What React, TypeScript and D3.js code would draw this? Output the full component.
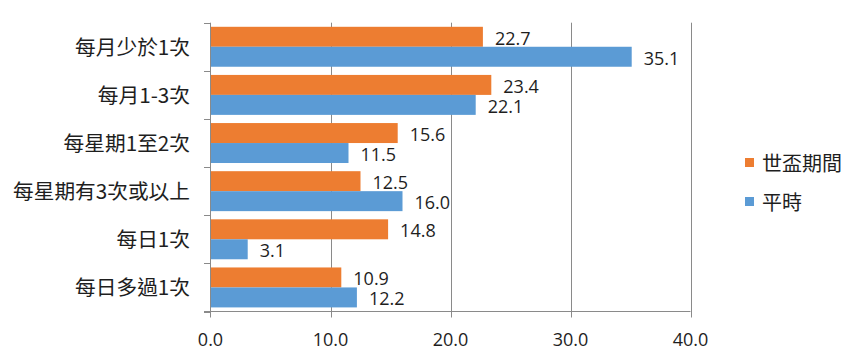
import React from 'react';
import * as d3 from 'd3';

const categories = ['每月少於1次', '每月1-3次', '每星期1至2次', '每星期有3次或以上', '每日1次', '每日多過1次'];
const worldCup = [22.7, 23.4, 15.6, 12.5, 14.8, 10.9];
const normal = [35.1, 22.1, 11.5, 16.0, 3.1, 12.2];
const seriesNames = ['世盃期間', '平時'];
const seriesColors = ['#ED7D31', '#5B9BD5'];
const xTicks = [0, 10, 20, 30, 40];

const W = 866;
const H = 363;
const left = 210.5;
const right = 690.5;
const top = 22.7;
const bottom = 311.5;
const gridColor = '#8a8a8a';
const textColor = '#1e1e1e';
const numFont = '"Open Sans", "Liberation Sans", sans-serif';
const cjkFont = '"Noto Sans CJK TC", "Noto Sans CJK SC", sans-serif';

export default function App() {
  const x = d3.scaleLinear().domain([0, 40]).range([left, right]);
  const y = d3.scaleBand<string>().domain(categories).range([top, bottom]).paddingInner(0.17).paddingOuter(0.085);
  const sub = d3.scaleBand<number>().domain([0, 1]).range([0, y.bandwidth()]);
  const series = [worldCup, normal];
  const step = y.step();
  const boundaries = d3.range(categories.length + 1).map((i) => top + i * step);

  return (
    <div style={{ position: 'fixed', left: 0, top: 0, width: W, height: H, background: '#fff' }}>
      <svg width={W} height={H} style={{ display: 'block' }}>
        <rect x={0} y={0} width={W} height={H} fill="#fff" />
        {/* gridlines */}
        {xTicks.slice(1).map((t) => (
          <line key={'g' + t} x1={Math.round(x(t)) + 0.5} x2={Math.round(x(t)) + 0.5} y1={top} y2={bottom + 6} stroke={gridColor} strokeWidth={1} />
        ))}
        {/* bars */}
        {series.map((vals, si) =>
          categories.map((c, ci) => (
            <rect
              key={'b' + si + '-' + ci}
              x={x(0)}
              y={(y(c) as number) + (sub(si) as number)}
              width={x(vals[ci]) - x(0)}
              height={sub.bandwidth()}
              fill={seriesColors[si]}
            />
          ))
        )}
        {/* left axis */}
        <line x1={left} x2={left} y1={top} y2={bottom + 6} stroke={gridColor} strokeWidth={1} />
        {boundaries.map((b, i) => (
          <line key={'lt' + i} x1={left - 6.5} x2={left} y1={Math.round(b) + 0.5} y2={Math.round(b) + 0.5} stroke={gridColor} strokeWidth={1} />
        ))}
        {/* bottom axis */}
        <line x1={left - 6.5} x2={right} y1={bottom} y2={bottom} stroke={gridColor} strokeWidth={1} />
        {/* value labels */}
        {series.map((vals, si) =>
          categories.map((c, ci) => (
            <text
              key={'v' + si + '-' + ci}
              x={x(vals[ci]) + 12}
              y={(y(c) as number) + (sub(si) as number) + sub.bandwidth() / 2 + 1}
              dominantBaseline="central"
              fontFamily={numFont}
              fontSize={18}
              fill={textColor}
            >
              {vals[ci].toFixed(1)}
            </text>
          ))
        )}
        {/* category labels */}
        {categories.map((c) => (
          <text
            key={'c' + c}
            x={190}
            y={(y(c) as number) + y.bandwidth() / 2 - 1}
            textAnchor="end"
            dominantBaseline="central"
            fontFamily={cjkFont}
            fontSize={20.7}
            fill={textColor}
          >
            {c}
          </text>
        ))}
        {/* x tick labels */}
        {xTicks.map((t) => (
          <text key={'t' + t} x={x(t)} y={339} textAnchor="middle" dominantBaseline="central" fontFamily={numFont} fontSize={18} fill={textColor}>
            {t.toFixed(1)}
          </text>
        ))}
        {/* legend */}
        {seriesNames.map((n, i) => (
          <g key={'l' + n} transform={`translate(745, ${158 + i * 39})`}>
            <rect x={0} y={0} width={9} height={9} fill={seriesColors[i]} />
            <text x={17} y={4.5} dominantBaseline="central" fontFamily={cjkFont} fontSize={20} fill={textColor}>
              {n}
            </text>
          </g>
        ))}
      </svg>
    </div>
  );
}
